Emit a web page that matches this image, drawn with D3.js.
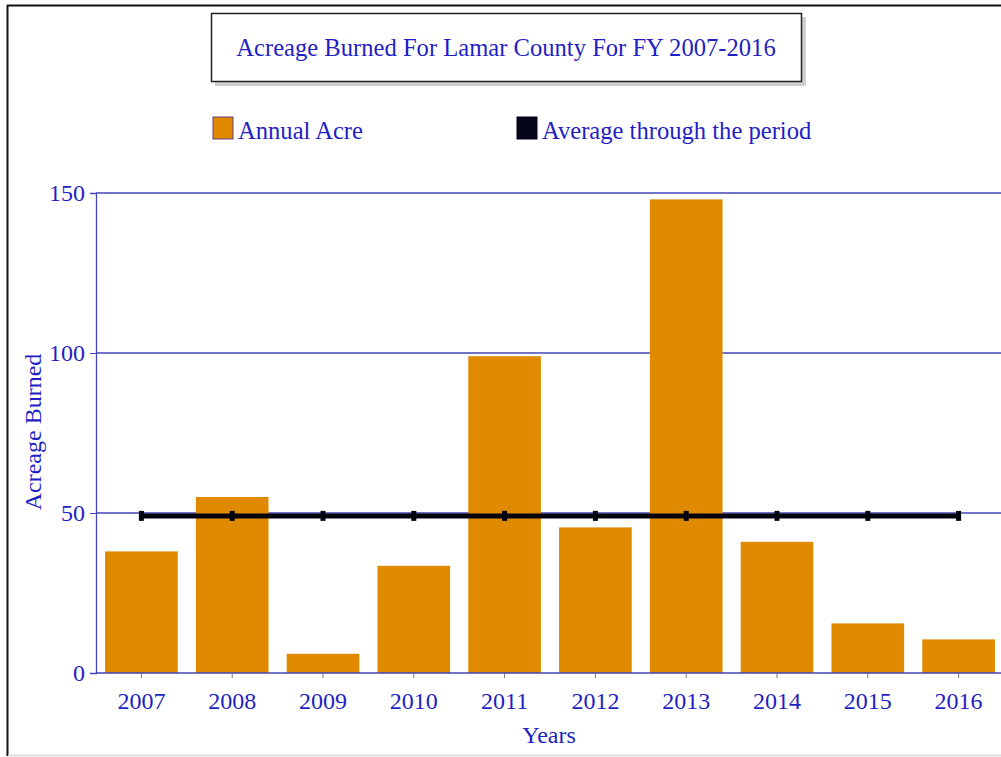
<!DOCTYPE html>
<html>
<head>
<meta charset="utf-8">
<script src="https://cdn.jsdelivr.net/npm/d3@7"></script>
<style>
  body { margin: 0; background: #fff; }
  text { font-family: "Liberation Serif", "DejaVu Serif", serif; }
</style>
</head>
<body>
<div id="chart"></div>
<script>
// data
const years = ["2007", "2008", "2009", "2010", "2011", "2012", "2013", "2014", "2015", "2016"];
const annualAcres = [38, 55, 6, 33.5, 99, 45.5, 148, 41, 15.5, 10.5];
const averageAcres = 49.1;
const yTicks = [0, 50, 100, 150];

const w = 1001, h = 757;
const blue = "#1f1fc4";
const gridBlue = "#4545b5";
const orange = "#e08a00";
const fontSize = 24;

const svg = d3.select("#chart").append("svg")
    .attr("width", w)
    .attr("height", h);

// outer frame: dark top and left edge, light bottom edge
svg.append("line")
    .attr("x1", 7.5).attr("x2", 7.5).attr("y1", 5).attr("y2", 756)
    .attr("stroke", "#111").attr("stroke-width", 2);
svg.append("line")
    .attr("x1", 7).attr("x2", w).attr("y1", 5.5).attr("y2", 5.5)
    .attr("stroke", "#111").attr("stroke-width", 2);
svg.append("line")
    .attr("x1", 8).attr("x2", w).attr("y1", 755.5).attr("y2", 755.5)
    .attr("stroke", "#d8d8d8").attr("stroke-width", 1.5);

// title box with shadow
svg.append("rect")
    .attr("x", 215).attr("y", 17).attr("width", 591).attr("height", 69)
    .attr("fill", "#cfcfcf");
svg.append("rect")
    .attr("x", 211.5).attr("y", 13.5).attr("width", 590).attr("height", 68)
    .attr("fill", "#fff").attr("stroke", "#222").attr("stroke-width", 1.5);
svg.append("text")
    .attr("x", 506).attr("y", 56)
    .attr("text-anchor", "middle")
    .attr("font-size", 24.6)
    .attr("fill", blue)
    .text("Acreage Burned For Lamar County For FY 2007-2016");

// legend
const legend = [
    { label: "Annual Acre", color: orange, stroke: "#6a3a8a", x: 213 },
    { label: "Average through the period", color: "#05051a", stroke: "#05051a", x: 517 }
];
legend.forEach(item => {
    svg.append("rect")
        .attr("x", item.x).attr("y", 117).attr("width", 20).attr("height", 22)
        .attr("fill", item.color).attr("stroke", item.stroke).attr("stroke-width", 1);
    svg.append("text")
        .attr("x", item.x + 25).attr("y", 139)
        .attr("font-size", 24.6)
        .attr("fill", blue)
        .text(item.label);
});

// scales
const plotLeft = 96, plotRight = 1004, plotTop = 193, plotBottom = 673;

const xScale = d3.scaleBand(years, [plotLeft, plotRight])
    .paddingInner(0.2)
    .paddingOuter(0.1);

const yScale = d3.scaleLinear([0, 150], [plotBottom, plotTop]);

// grid lines
svg.append("g")
    .selectAll("line")
    .data(yTicks.filter(d => d > 0))
    .join("line")
    .attr("x1", plotLeft).attr("x2", w)
    .attr("y1", d => yScale(d)).attr("y2", d => yScale(d))
    .attr("stroke", gridBlue).attr("stroke-width", 1.3);

// bars
svg.append("g")
    .selectAll("rect")
    .data(annualAcres)
    .join("rect")
    .attr("x", (d, i) => xScale(years[i]))
    .attr("y", d => yScale(d))
    .attr("width", xScale.bandwidth())
    .attr("height", d => yScale(0) - yScale(d))
    .attr("fill", orange);

// y axis
const yAxisG = svg.append("g")
    .attr("transform", `translate(${plotLeft}, 0)`)
    .call(d3.axisLeft(yScale).tickValues(yTicks).tickSize(6).tickPadding(5));
yAxisG.select(".domain").attr("stroke", gridBlue).attr("stroke-width", 1.3);
yAxisG.selectAll(".tick line").attr("stroke", gridBlue);
yAxisG.selectAll(".tick text")
    .attr("font-size", fontSize)
    .attr("font-family", "Liberation Serif")
    .attr("fill", blue);

// x axis
const xAxisG = svg.append("g")
    .attr("transform", `translate(0, ${plotBottom})`)
    .call(d3.axisBottom(xScale).tickSize(5).tickPadding(14));
xAxisG.select(".domain").remove();
xAxisG.append("line")
    .attr("x1", plotLeft).attr("x2", w)
    .attr("stroke", gridBlue).attr("stroke-width", 1.3);
xAxisG.selectAll(".tick line").attr("stroke", "#777");
xAxisG.selectAll(".tick text")
    .attr("font-size", fontSize)
    .attr("font-family", "Liberation Serif")
    .attr("fill", blue);

// average line
const centers = years.map(y => xScale(y) + xScale.bandwidth() / 2);
const line = d3.line()
    .x(d => d)
    .y(() => yScale(averageAcres));

svg.append("path")
    .datum(centers)
    .attr("d", line)
    .attr("fill", "none")
    .attr("stroke", "#05050f")
    .attr("stroke-width", 5);

svg.append("g")
    .selectAll("rect")
    .data(centers)
    .join("rect")
    .attr("x", d => d - 2.5)
    .attr("y", yScale(averageAcres) - 5)
    .attr("width", 5)
    .attr("height", 10)
    .attr("fill", "#05050f");

// axis titles
svg.append("text")
    .attr("x", 549).attr("y", 743)
    .attr("text-anchor", "middle")
    .attr("font-size", fontSize)
    .attr("fill", blue)
    .text("Years");

svg.append("text")
    .attr("transform", `translate(41, 432) rotate(-90)`)
    .attr("text-anchor", "middle")
    .attr("font-size", fontSize)
    .attr("fill", blue)
    .text("Acreage Burned");
</script>
</body>
</html>
